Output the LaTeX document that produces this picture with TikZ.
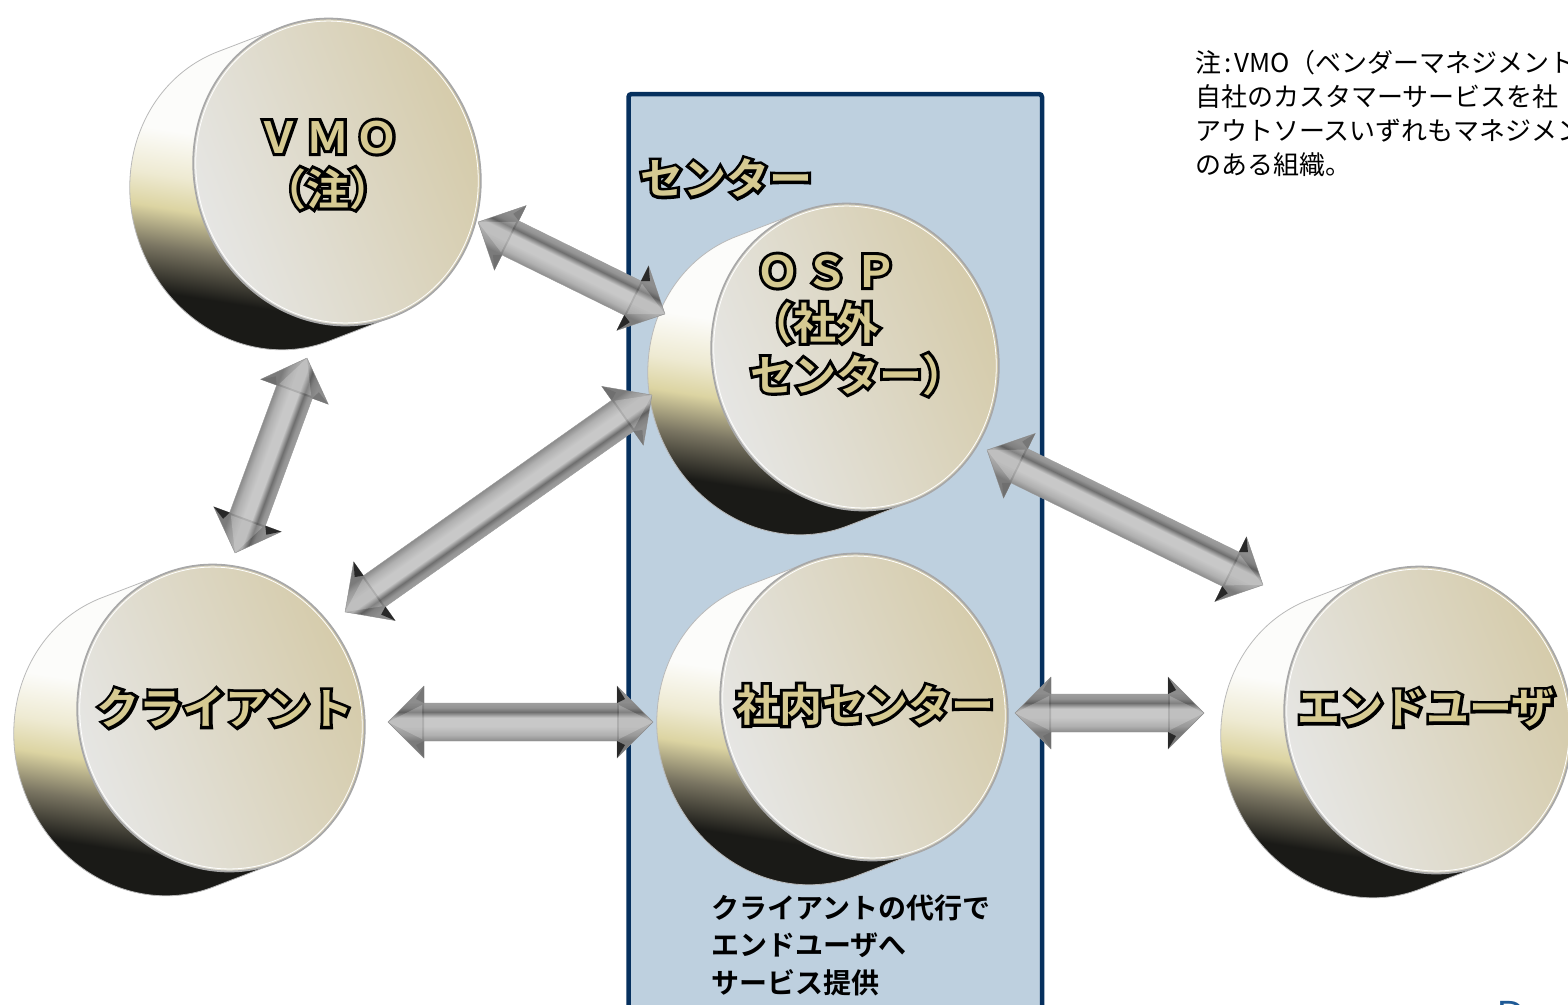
\documentclass[tikz,border=0pt]{standalone}
\usepackage{fontspec}
\newfontfamily\jp{Noto Sans CJK JP}
\newfontfamily\jpb{Noto Sans CJK JP Bold}
\newfontfamily\jpo{Noto Sans CJK JP Bold}[FakeBold=14]
\newfontfamily\latinf{Liberation Sans}
\usetikzlibrary{calc}

\definecolor{boxfill}{HTML}{BED0DF}
\definecolor{boxdraw}{HTML}{06305E}
\definecolor{labtan}{HTML}{D6CA92}
\definecolor{faceL}{HTML}{E6E6E4}
\definecolor{faceR}{HTML}{D5CBAA}
\definecolor{sdk}{HTML}{1A1A17}
\definecolor{smid}{HTML}{7A7562}
\definecolor{sgold}{HTML}{DCD4A2}
\definecolor{sgoldl}{HTML}{EEEAD2}
\definecolor{swhite}{HTML}{FCFCFA}
\definecolor{rim}{HTML}{A8A8A8}
\definecolor{ar1}{HTML}{8E8E8E}
\definecolor{ar2}{HTML}{B0B0B0}
\definecolor{ar3}{HTML}{C8C8C8}
\definecolor{ar4}{HTML}{6E6E6E}
\definecolor{ar5}{HTML}{939393}
\definecolor{ar6}{HTML}{A2A2A2}
\definecolor{dblue}{HTML}{1F5A96}

\pgfdeclareverticalshading{cylside}{100bp}{color(0bp)=(sdk); color(30bp)=(sdk); color(37bp)=(smid); color(43bp)=(sgold); color(48bp)=(sgoldl); color(55bp)=(swhite); color(100bp)=(swhite)}
\pgfdeclareverticalshading{arrsh}{100bp}{color(0bp)=(ar1); color(37bp)=(ar1); color(41bp)=(ar2); color(47bp)=(ar3); color(53bp)=(ar3); color(57bp)=(ar4); color(60bp)=(ar5); color(64bp)=(ar6); color(100bp)=(ar6)}

\newcommand\outl[1]{\rlap{\color{black}\jpo #1}#1}

\tikzset{
  disklabel/.style={font=\jpb\fontsize{43}{52}\selectfont, text=labtan, align=center, inner sep=0pt},
}

\newcommand\disk[1]{%
  \begin{scope}[transform canvas={shift={(#1)},rotate=21}]
    \shade[shading=cylside, shading angle=-30, draw=rim!80, line width=0.8pt]
      (0,155) -- (-68,155) arc[start angle=90, end angle=270, x radius=142, y radius=155]
      -- (0,-155) arc[start angle=270, end angle=450, x radius=142, y radius=155] -- cycle;
    \shade[left color=faceL, right color=faceR, draw=rim, line width=1.8pt]
      (0,0) ellipse [x radius=142, y radius=155];
    \draw[white, line width=0.8pt] (0,0) ellipse [x radius=139.5, y radius=152.5];
  \end{scope}}

\newcommand\dblarrow[2]{%
  \path let \p1=(#1), \p2=(#2) in \pgfextra{%
    \pgfmathparse{atan2((\y2)-(\y1),(\x2)-(\x1))}\xdef\arrang{\pgfmathresult}%
    \pgfmathparse{veclen((\x2)-(\x1),(\y2)-(\y1))}\xdef\arrlen{\pgfmathresult}};
  \begin{scope}[transform canvas={shift={(#1)},rotate=\arrang}]
    \shade[shading=arrsh, draw=black!40, line width=0.4pt]
      (0,0) -- (36,36) -- (36,19) -- ({\arrlen-36},19) -- ({\arrlen-36},36) -- (\arrlen,0)
      -- ({\arrlen-36},-36) -- ({\arrlen-36},-19) -- (36,-19) -- (36,-36) -- cycle;
    \fill[black, opacity=.13] (\arrlen,0) -- ({\arrlen-36},36) -- ({\arrlen-36},-36) -- cycle;
    \fill[black, opacity=.13] (0,0) -- (36,36) -- (36,-36) -- cycle;
    \fill[black!88, opacity=.9] ({\arrlen-36},36) -- ({\arrlen-28},23) -- ({\arrlen-36},19) -- cycle;
    \fill[black!88, opacity=.9] ({\arrlen-36},-36) -- ({\arrlen-28},-23) -- ({\arrlen-36},-19) -- cycle;
    \fill[white, opacity=.22] (\arrlen,0) -- ({\arrlen-34},17) -- ({\arrlen-34},-17) -- cycle;
    \fill[black!60, opacity=.55] (36,36) -- (28,23) -- (36,19) -- cycle;
    \fill[black!60, opacity=.55] (36,-36) -- (28,-23) -- (36,-19) -- cycle;
    \fill[white, opacity=.22] (0,0) -- (34,17) -- (34,-17) -- cycle;
  \end{scope}}

\begin{document}
\begin{tikzpicture}[x=1pt,y=-1pt]
\useasboundingbox (0,0) rectangle (1568,1004);

% centre box
\draw[boxdraw, line width=4.5pt, fill=boxfill, rounded corners=3pt] (628.5,94) rectangle (1042,1040);

% disk centres
\coordinate (vmo) at (337,172);
\coordinate (osp) at (855,357);
\coordinate (inhouse) at (864,707);
\coordinate (client) at (221,718);
\coordinate (enduser) at (1428,720);

\disk{vmo}
\disk{osp}
\disk{inhouse}
\disk{client}
\disk{enduser}

% arrow end points
\coordinate (a1s) at (478,222);  \coordinate (a1e) at (665,314);
\coordinate (a2s) at (307,358);  \coordinate (a2e) at (235,553);
\coordinate (a3s) at (652,395);  \coordinate (a3e) at (345,612);
\coordinate (a4s) at (388,722);  \coordinate (a4e) at (653,722);
\coordinate (a5s) at (1015,713); \coordinate (a5e) at (1204,713);
\coordinate (a6s) at (987,450);  \coordinate (a6e) at (1263,585);

\dblarrow{a1s}{a1e}
\dblarrow{a2s}{a2e}
\dblarrow{a3s}{a3e}
\dblarrow{a4s}{a4e}
\dblarrow{a5s}{a5e}
\dblarrow{a6s}{a6e}

% labels
\node[disklabel, anchor=west] (center-l) at (640,178) {\outl{センター}};
\node[disklabel] (vmo-l) at (328,165) {\outl{Ｖ\hspace{6pt}Ｍ\hspace{6pt}Ｏ}\\\outl{（注）}};
\node[disklabel, align=left, anchor=west] (osp-l) at (750,325) {\outl{\hspace{6pt}Ｏ\hspace{6pt}Ｓ\hspace{6pt}Ｐ}\\\outl{（社外}\\\outl{センター）}};
\node[disklabel] (inhouse-l) at (865,705) {\outl{社内センター}};
\node[disklabel] (client-l) at (225,708) {\outl{クライアント}};
\node[disklabel] (enduser-l) at (1426,708) {\outl{エンドユーザ}};

\node[anchor=west, align=left, font=\jpb\fontsize{28}{37.5}\selectfont, inner sep=0pt] (service) at (711,945) {クライアントの代行で\\エンドユーザへ\\サービス提供};

\node[anchor=west, align=left, font=\jp\fontsize{26}{34}\selectfont, inner sep=0pt] (note) at (1195,113) {注\kern3pt:\kern3pt VMO（ベンダーマネジメント\\自社のカスタマーサービスを社\\アウトソースいずれもマネジメン\\のある組織。};

\node[anchor=north west, inner sep=0pt, font=\latinf\fontsize{38}{38}\selectfont, text=dblue] (d) at (1497,1001) {D};
\end{tikzpicture}
\end{document}
